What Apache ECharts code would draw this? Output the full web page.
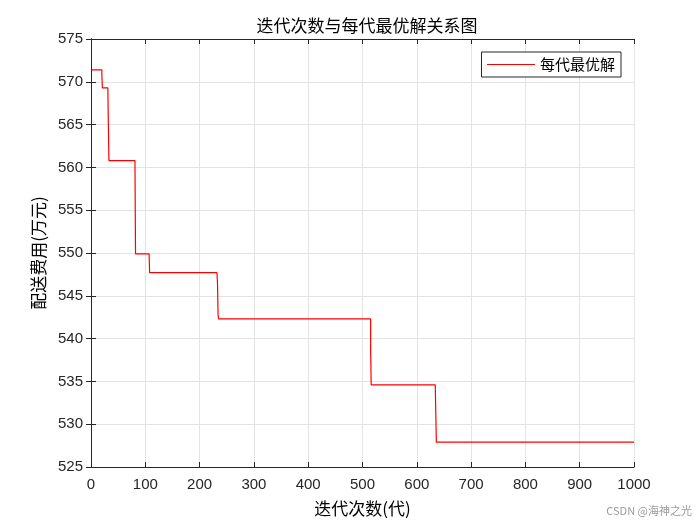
<!DOCTYPE html>
<html>
<head>
<meta charset="utf-8">
<script src="https://cdn.jsdelivr.net/npm/echarts@6/dist/echarts.min.js"></script>
<style>
  html, body { margin: 0; padding: 0; background: #fff; }
  #chart { width: 700px; height: 525px; }
</style>
</head>
<body>
<div id="chart"></div>
<script>
"use strict";

// generaciones donde cambia el mejor valor
const generations = [1, 20, 21, 31, 32, 33, 81, 82, 107, 108, 232, 233, 234, 235, 515, 516, 634, 635, 636, 1000];
// mejor valor en cada una de esas generaciones (万元)
const bestValues = [571.4, 570.8, 569.3, 569.3, 564.9, 560.8, 560.4, 549.9, 549.9, 547.7, 547.7, 546.4, 542.8, 542.3, 538.5, 534.6, 534.6, 531.2, 527.9, 527.9];

const xTicks = [0, 1000, 100];
const yTicks = [525, 575, 5];

const axisColor = '#262626';
const gridColor = '#e3e3e3';
const font = 'Noto Sans CJK SC';

var myChart = echarts.init(document.getElementById('chart'));

const seriesData = generations.map((g, i) => [g, bestValues[i]]);

// ejes espejo para dibujar la caja completa
const boxAxis = {
    axisLine: { show: true, lineStyle: { color: axisColor, width: 1 } },
    axisTick: { show: true, inside: true, length: 5, lineStyle: { color: axisColor } },
    axisLabel: { show: false },
    splitLine: { show: false }
};

var option = {
    backgroundColor: '#fff',
    animation: false,
    color: ['#ff0000'],
    title: {
        text: '迭代次数与每代最优解关系图',
        left: 362,
        top: 12,
        textAlign: 'center',
        textStyle: { fontFamily: font, fontSize: 17, fontWeight: 'normal', color: '#000' }
    },
    grid: { left: 91, top: 39, width: 543, height: 428, containLabel: false },
    legend: {
        right: 79,
        top: 52,
        orient: 'vertical',
        itemWidth: 48,
        itemHeight: 14,
        itemGap: 4,
        padding: [5, 6, 5, 5],
        borderColor: axisColor,
        borderWidth: 1,
        backgroundColor: '#fff',
        itemStyle: { opacity: 0 },
        lineStyle: { color: '#ff0000', width: 1 },
        textStyle: { fontFamily: font, fontSize: 15, color: '#000' },
        data: ['每代最优解']
    },
    xAxis: [{
        type: 'value',
        min: xTicks[0], max: xTicks[1], interval: xTicks[2],
        name: '迭代次数(代)',
        nameLocation: 'middle',
        nameGap: 33,
        nameTextStyle: { fontFamily: font, fontSize: 17, color: '#000' },
        axisLine: { lineStyle: { color: axisColor, width: 1 } },
        axisTick: { inside: true, length: 5, lineStyle: { color: axisColor } },
        axisLabel: { fontFamily: 'Liberation Sans', fontSize: 15, color: axisColor, margin: 10, formatter: v => String(v) },
        splitLine: { show: true, lineStyle: { color: gridColor, width: 1 } }
    }, Object.assign({ type: 'value', position: 'top', min: xTicks[0], max: xTicks[1], interval: xTicks[2] }, boxAxis)],
    yAxis: [{
        type: 'value',
        min: yTicks[0], max: yTicks[1], interval: yTicks[2],
        name: '配送费用(万元)',
        nameLocation: 'middle',
        nameGap: 44,
        nameTextStyle: { fontFamily: font, fontSize: 17, color: '#000' },
        axisLine: { show: true, lineStyle: { color: axisColor, width: 1 } },
        axisTick: { show: true, inside: true, length: 5, lineStyle: { color: axisColor } },
        axisLabel: { fontFamily: 'Liberation Sans', fontSize: 15, color: axisColor, margin: 8 },
        splitLine: { show: true, lineStyle: { color: gridColor, width: 1 } }
    }, Object.assign({ type: 'value', position: 'right', min: yTicks[0], max: yTicks[1], interval: yTicks[2] }, boxAxis)],
    graphic: [{
        type: 'text',
        right: 8,
        top: 505,
        style: { text: 'CSDN @海神之光', fontFamily: font, fontSize: 11, fill: '#9a9a9a' }
    }],
    series: [{
        name: '每代最优解',
        type: 'line',
        step: 'end',
        symbol: 'none',
        data: seriesData,
        itemStyle: { color: '#ff0000' },
        lineStyle: { color: '#ff0000', width: 1.2 }
    }]
};

myChart.setOption(option);
</script>
</body>
</html>
